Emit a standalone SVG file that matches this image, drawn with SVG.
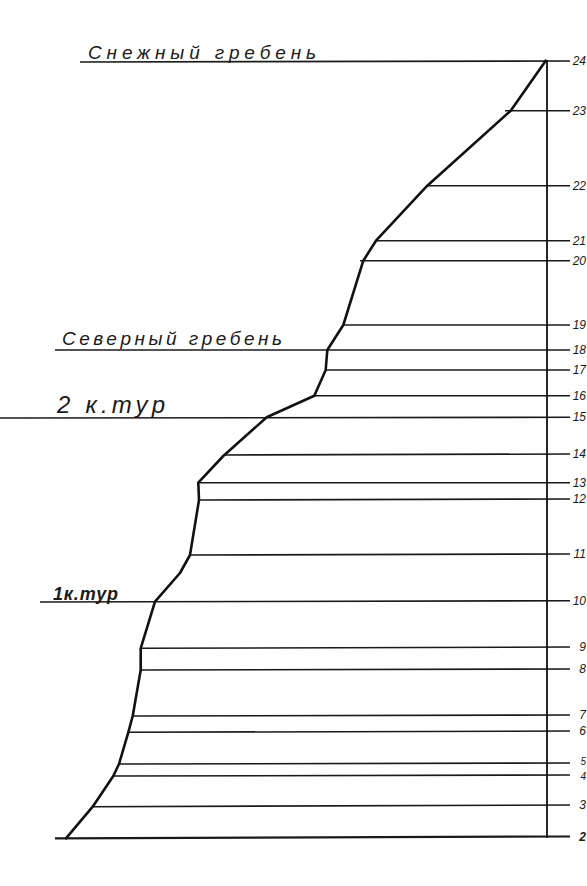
<svg xmlns="http://www.w3.org/2000/svg" width="587" height="886" viewBox="0 0 587 886">
<style>
.bg{fill:#ffffff}
.lvl{stroke:#1a1a1a;stroke-width:1.6;fill:none}
.prof{stroke:#111;stroke-width:2.6;fill:none;stroke-linejoin:round;stroke-linecap:round}
.axis{stroke:#111;stroke-width:1.8}
.num{font-family:"Liberation Sans",Arial,sans-serif;font-style:italic;font-size:12px;fill:#1a1a1a;text-anchor:end}
.title{font-family:"Liberation Sans",Arial,sans-serif;font-style:italic;font-size:19px;fill:#1a1a1a}
</style>
<rect class="bg" x="0" y="0" width="587" height="886"/>
<g id="connectors">
<line class="lvl" x1="80" y1="62" x2="570" y2="61"/>
<line class="lvl" x1="505" y1="110.7" x2="570" y2="110.7"/>
<line class="lvl" x1="427" y1="185.7" x2="570" y2="185.7"/>
<line class="lvl" x1="376" y1="240.7" x2="570" y2="240.7"/>
<line class="lvl" x1="360" y1="260.7" x2="570" y2="260.7"/>
<line class="lvl" x1="343" y1="325" x2="570" y2="325"/>
<line class="lvl" x1="55" y1="350" x2="570" y2="350"/>
<line class="lvl" x1="326" y1="370" x2="570" y2="370"/>
<line class="lvl" x1="314" y1="395.7" x2="570" y2="395.7"/>
<line class="lvl" x1="0" y1="418" x2="570" y2="417.3"/>
<line class="lvl" x1="223" y1="455" x2="570" y2="454"/>
<line class="lvl" x1="198" y1="482.7" x2="570" y2="482.7"/>
<line class="lvl" x1="199" y1="500" x2="570" y2="499"/>
<line class="lvl" x1="190" y1="555" x2="570" y2="554"/>
<line class="lvl" x1="40" y1="602" x2="570" y2="600.7"/>
<line class="lvl" x1="140" y1="648.3" x2="570" y2="647"/>
<line class="lvl" x1="140" y1="670" x2="570" y2="669"/>
<line class="lvl" x1="132" y1="716" x2="570" y2="715"/>
<line class="lvl" x1="128" y1="732.3" x2="570" y2="731"/>
<line class="lvl" x1="119" y1="764" x2="570" y2="763"/>
<line class="lvl" x1="113" y1="776" x2="570" y2="775"/>
<line class="lvl" x1="92" y1="806.7" x2="570" y2="805"/>
<line class="lvl" x1="55" y1="838.3" x2="570" y2="836.5" style="stroke-width:2.2"/>
</g>
<g id="axis">
<line class="axis" x1="547" y1="60" x2="547" y2="838"/>
</g>
<g id="profile">
<polyline class="prof" points="545.7,60.7 510.7,110.7 427.3,185.7 376,240.7 363.3,260.7 343.3,325 327.3,350 325.7,370 314.3,395.7 266.7,417.3 223.3,456 198.3,482.7 199,500 190,555 180,573 155,601.7 140.7,648.3 140.7,670 132.7,716 128.3,732.3 119,764 113.3,776 92.7,806.7 66,838.3"/>
</g>
<g id="ridge-labels">
<text class="title" x="88" y="59" textLength="228" lengthAdjust="spacing">Снежный гребень</text>
<text class="title" x="62" y="345" textLength="220" lengthAdjust="spacing">Северный гребень</text>
<text class="title" x="57" y="413" style="font-size:24px" textLength="108" lengthAdjust="spacing">2 к.тур</text>
<text class="title" x="53" y="600" style="font-size:18px;font-weight:bold" textLength="65" lengthAdjust="spacing">1к.тур</text>
</g>
<g id="point-numbers">
<text class="num" x="586" y="65">24</text>
<text class="num" x="586" y="115">23</text>
<text class="num" x="586" y="190">22</text>
<text class="num" x="586" y="245">21</text>
<text class="num" x="586" y="265">20</text>
<text class="num" x="586" y="329">19</text>
<text class="num" x="586" y="354">18</text>
<text class="num" x="586" y="374">17</text>
<text class="num" x="586" y="400">16</text>
<text class="num" x="586" y="421">15</text>
<text class="num" x="586" y="458">14</text>
<text class="num" x="586" y="487">13</text>
<text class="num" x="586" y="503">12</text>
<text class="num" x="586" y="558">11</text>
<text class="num" x="586" y="605">10</text>
<text class="num" x="586" y="651">9</text>
<text class="num" x="586" y="673">8</text>
<text class="num" x="586" y="719">7</text>
<text class="num" x="586" y="735">6</text>
<text class="num" x="586" y="765" style="font-size:10px">5</text>
<text class="num" x="586" y="780" style="font-size:10px">4</text>
<text class="num" x="586" y="809">3</text>
<text class="num" x="586" y="841" style="font-weight:bold">2</text>
</g>
</svg>
